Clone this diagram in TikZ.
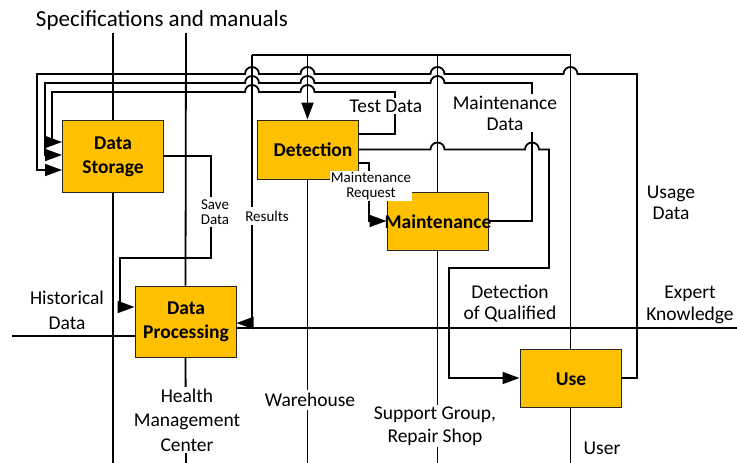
\documentclass[tikz,border=0pt]{standalone}
\usepackage{fontspec}
\setmainfont{Carlito}
\usetikzlibrary{arrows.meta}
\definecolor{boxfill}{HTML}{FFC000}
\tikzset{
  blk/.style={draw=black!85, line width=1pt, fill=boxfill, minimum width=101pt, minimum height=58pt, inner sep=0pt},
  blktext/.style={font=\fontsize{19.5}{24}\selectfont\bfseries, align=center, inner sep=0pt},
  txt/.style={font=\fontsize{19.5}{21}\selectfont, align=center, inner sep=2pt},
  captxt/.style={font=\fontsize{23}{26}\selectfont, inner sep=0pt},
  smalltxt/.style={font=\fontsize{15}{15}\selectfont, align=center, inner sep=2pt},
  gap/.style={fill=white},
  wire/.style={line width=1.8pt},
  flow/.style={wire, -{Triangle[length=17pt,width=12pt]}}
}
\begin{document}
\begin{tikzpicture}[x=1pt, y=-1pt]
  \useasboundingbox (0,0) rectangle (737,463);
  % boxes
  \node[blk, minimum height=72pt] (ds) at (113,156) {};
  \node[blk, minimum height=59pt] (det) at (307.5,149.5) {};
  \node[blk] (mnt) at (437.5,221) {};
  \node[blk, minimum height=71pt] (dp) at (185.5,321.5) {};
  \node[blk] (use) at (570.5,378) {};
  % free ends
  \coordinate (dstop) at (113,33);
  \coordinate (dsbot) at (113,463);
  \coordinate (dptop) at (186,33);
  \coordinate (dpbot) at (186,463);
  \coordinate (detbot) at (307.5,463);
  \coordinate (mntbot) at (437.5,463);
  \coordinate (usebot) at (570.5,463);
  \coordinate (histin) at (12,336);
  \coordinate (expin) at (737,328);
  \coordinate (busl) at (252,55);
  \coordinate (busr) at (570.5,55);
  % lanes
  \begin{scope}[wire]
    \draw (dstop) -- (ds.north);
    \draw (ds.south) -- (dsbot);
    \draw (dptop) -- (dp.north);
    \draw (dp.south) -- (dpbot);
    \draw (det.south) -- (detbot);
    \draw (mnt.south) -- (mntbot);
    \draw (use.south) -- (usebot);
    \draw (histin) -- (dp.west |- histin);
    \draw (dp.east |- expin) -- (expin);
    \draw (busr) -- (busl);
    \draw (mnt.north |- busl) -- (mnt.north);
    \draw (busr) -- (use.north);
  \end{scope}
  % flows
  \begin{scope}[flow]
    \draw (busl) -- (252,323) -- (dp.east |- 0,323);
    \draw (det.north |- busl) -- (det.north);
    \draw (use.east) -- (637,378) -- (637,74)
      -- (577.5,74) arc[start angle=0, end angle=180, radius=7pt]
      -- (444.5,74) arc[start angle=0, end angle=180, radius=7pt]
      -- (314.5,74) arc[start angle=0, end angle=180, radius=7pt]
      -- (259,74) arc[start angle=0, end angle=180, radius=7pt]
      -- (37,74) -- (37,170) -- (ds.west |- 0,170);
    \draw (mnt.east) -- (532,221) -- (532,83)
      -- (444.5,83) arc[start angle=0, end angle=180, radius=7pt]
      -- (314.5,83) arc[start angle=0, end angle=180, radius=7pt]
      -- (259,83) arc[start angle=0, end angle=180, radius=7pt]
      -- (45,83) -- (45,155) -- (ds.west |- 0,155);
    \draw (det.east |- 0,134) -- (395,134) -- (395,92)
      -- (314.5,92) arc[start angle=0, end angle=180, radius=7pt]
      -- (259,92) arc[start angle=0, end angle=180, radius=7pt]
      -- (52,92) -- (52,142) -- (ds.west |- 0,142);
    \draw (det.east) -- (430.5,149.5) arc[start angle=180, end angle=0, radius=7pt]
      -- (525,149.5) arc[start angle=180, end angle=0, radius=7pt]
      -- (549,149.5) -- (549,268) -- (449,268) -- (449,378) -- (use.west);
    \draw (det.east |- 0,163) -- (369,163) -- (369,221) -- (mnt.west);
    \draw (ds.east) -- (211,156) -- (211,258) -- (120,258) -- (120,307) -- (dp.west |- 0,307);
  \end{scope}
  % labels
  \node[captxt] (spec) at (162,20) {Specifications and manuals};
  \node[txt, gap] (testd) at (386,106) {Test Data};
  \node[txt, gap] (maintd) at (505,113) {Maintenance\\Data};
  \node[smalltxt, gap, inner sep=1pt] (mreq) at (371,186) {Maintenance\\Request};
  \node[smalltxt, gap, inner sep=3pt] (saved) at (215,212) {Save\\Data};
  \node[smalltxt, gap, inner sep=4pt] (res) at (267,216) {Results};
  \node[txt] (usage) at (671,203) {Usage\\Data};
  \node[txt, font=\fontsize{19.5}{25}\selectfont] (hist) at (67,310) {Historical\\Data};
  \node[txt] (qual) at (510,304) {Detection\\of Qualified};
  \node[txt, font=\fontsize{19.5}{22.5}\selectfont] (expert) at (690,305) {Expert\\Knowledge};
  \node[txt, gap, font=\fontsize{19.5}{24.5}\selectfont] (hmc) at (187,420) {Health\\Management\\Center};
  \node[txt, gap, inner sep=3pt] (wh) at (310,400) {Warehouse};
  \node[txt, gap, font=\fontsize{19.5}{23}\selectfont] (sup) at (435,426) {Support Group,\\Repair Shop};
  \node[txt] (user) at (602,448) {User};
  % box labels
  \node[blktext] (dsl) at (113,157) {Data\\Storage};
  \node[blktext] (detl) at (313,150) {Detection};
  \node[blktext] (mntl) at (438,222) {Maintenance};
  \node[blktext] (dpl) at (186,322) {Data\\Processing};
  \node[blktext] (usel) at (571,379) {Use};
\end{tikzpicture}
\end{document}
